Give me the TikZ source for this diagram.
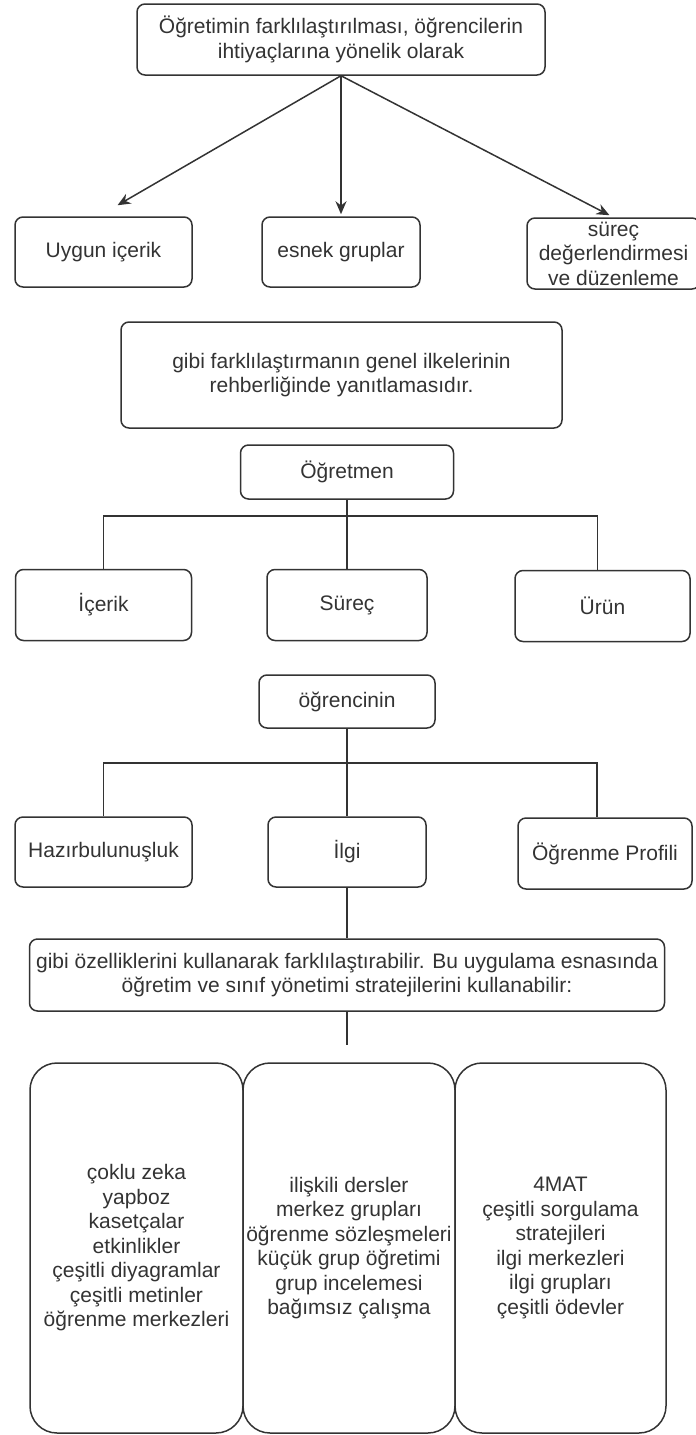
\documentclass[tikz,border=0pt]{standalone}
\usepackage{fontspec}
\setmainfont{Liberation Sans}
\usetikzlibrary{arrows.meta}

\begin{document}
\begin{tikzpicture}[x=1pt,y=-1pt,
  box/.style={draw=black!80,line width=1.5pt,rounded corners=8pt,align=center,
    inner sep=0pt,text=black!80,font=\fontsize{21}{24.5}\selectfont},
  tallbox/.style={box,rounded corners=27pt,minimum height=370pt},
  link/.style={draw=black!80,line width=1.5pt},
  arr/.style={link,-{Stealth[length=13pt,width=11pt]}}]
  \useasboundingbox (0,0) rectangle (696,1435);

  % aim of differentiation
  \node[box,minimum width=408pt,minimum height=71pt] (amac) at (341,39.5)
    {Öğretimin farklılaştırılması, öğrencilerin\\ihtiyaçlarına yönelik olarak};
  \node[box,minimum width=177pt,minimum height=70pt] (uygun) at (103.5,252) {Uygun içerik};
  \node[box,minimum width=158pt,minimum height=70pt] (esnek) at (341,252) {esnek gruplar};
  \node[box,minimum width=173pt,minimum height=71pt] (degerl) at (613.5,253.5)
    {süreç\\değerlendirmesi\\ve düzenleme};
  \draw[arr] (amac.south) -- ([xshift=14pt,yshift=11pt]uygun.north);
  \draw[arr] (amac.south) -- ([yshift=2pt]esnek.north);
  \draw[arr] (amac.south) -- ([xshift=-4pt,yshift=2pt]degerl.north);

  \node[box,minimum width=441pt,minimum height=106pt] (ilke) at (341.5,375)
    {gibi farklılaştırmanın genel ilkelerinin\\rehberliğinde yanıtlamasıdır.};

  % teacher
  \node[box,minimum width=213pt,minimum height=54pt] (ogretmen) at (347,472) {Öğretmen};
  \node[box,minimum width=176pt,minimum height=71pt] (icerik) at (103.5,605) {İçerik};
  \node[box,minimum width=160pt,minimum height=71pt] (surec) at (347,605) {Süreç};
  \node[box,minimum width=175pt,minimum height=71pt] (urun) at (602.5,606) {Ürün};
  \coordinate (catal1) at (347,516);
  \draw[link] (ogretmen.south) -- (catal1);
  \draw[link] (icerik.north) |- (catal1) -| ([xshift=-5pt]urun.north);
  \draw[link] (catal1) -- (surec.north);

  % student
  \node[box,minimum width=176pt,minimum height=53pt] (ogrenci) at (347,701.5) {öğrencinin};
  \node[box,minimum width=177pt,minimum height=70pt] (hazir) at (103.5,852) {Hazırbulunuşluk};
  \node[box,minimum width=158pt,minimum height=70pt] (ilgi) at (347,852) {İlgi};
  \node[box,minimum width=174pt,minimum height=71pt] (profil) at (605,853.5) {Öğrenme Profili};
  \coordinate (catal2) at (347,763);
  \draw[link] (ogrenci.south) -- (catal2);
  \draw[link] (hazir.north) |- (catal2) -| ([xshift=-8pt]profil.north);
  \draw[link] (catal2) -- (ilgi.north);

  \node[box,minimum width=635pt,minimum height=72pt] (genis) at (347,975)
    {gibi özelliklerini kullanarak farklılaştırabilir. Bu uygulama esnasında\\öğretim ve sınıf yönetimi stratejilerini kullanabilir:};
  \draw[link] (ilgi.south) -- (genis.north);
  \coordinate (uc) at (347,1045);
  \draw[link] (genis.south) -- (uc);

  % strategies
  \node[tallbox,minimum width=213pt] (strat1) at (136.5,1248)
    {çoklu zeka\\yapboz\\kasetçalar\\etkinlikler\\çeşitli diyagramlar\\çeşitli metinler\\öğrenme merkezleri};
  \node[tallbox,minimum width=212pt] (strat2) at (349,1248)
    {ilişkili dersler\\merkez grupları\\öğrenme sözleşmeleri\\küçük grup öğretimi\\grup incelemesi\\bağımsız çalışma};
  \node[tallbox,minimum width=211pt] (strat3) at (560.5,1248)
    {4MAT\\çeşitli sorgulama\\stratejileri\\ilgi merkezleri\\ilgi grupları\\çeşitli ödevler};
\end{tikzpicture}
\end{document}
